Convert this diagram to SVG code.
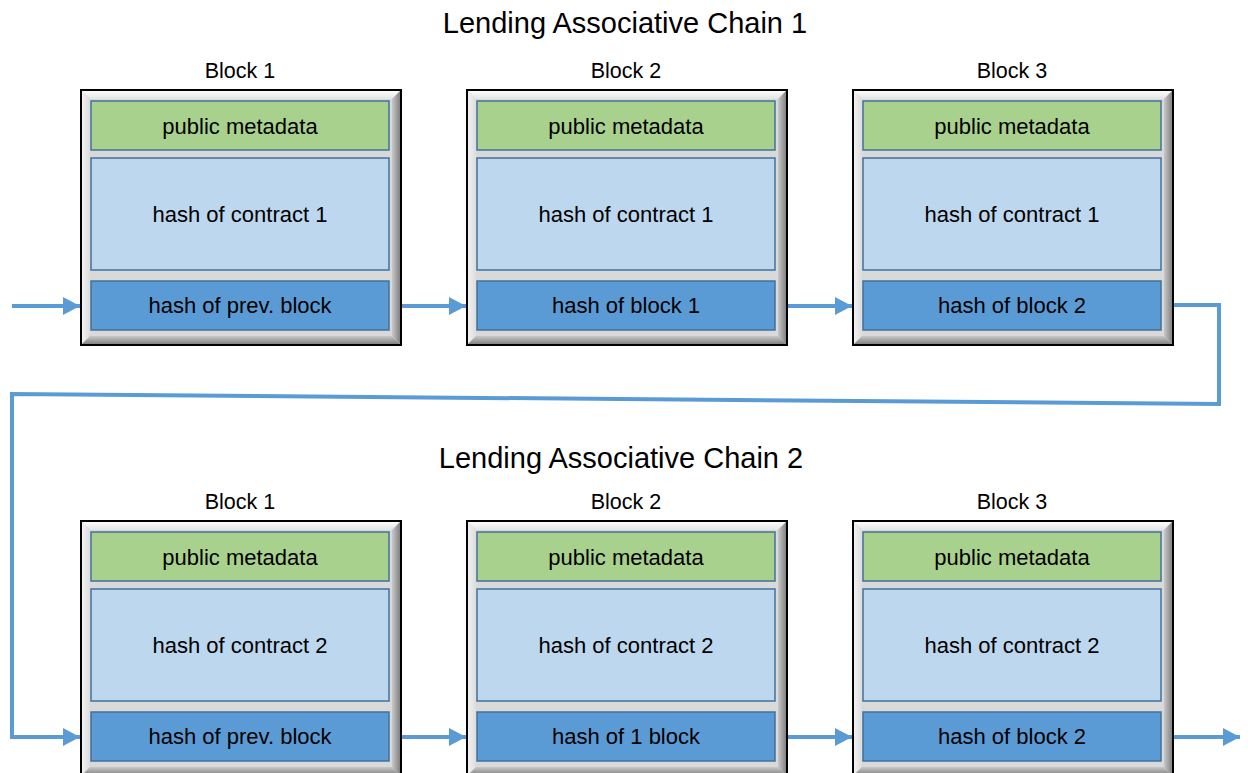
<svg xmlns="http://www.w3.org/2000/svg" xmlns:xlink="http://www.w3.org/1999/xlink" width="1248" height="773" viewBox="0 0 1248 773">
<style>
.t{font-family:"Liberation Sans",Arial,sans-serif;fill:#000;text-anchor:middle}
.title{font-size:29px}
.lbl{font-size:21.5px}
.in{font-size:22px}
.g{fill:#A9D18E;stroke:#41719C;stroke-width:1.5}
.lb{fill:#BDD7EE;stroke:#41719C;stroke-width:1.5}
.db{fill:#5B9BD5;stroke:#41719C;stroke-width:1.5}
.c{fill:none;stroke:#5B9BD5;stroke-width:4}
</style>
<defs>
<linearGradient id="gT" x1="0" y1="0" x2="0" y2="1"><stop offset="0" stop-color="#ffffff"/><stop offset="1" stop-color="#e4e4e4"/></linearGradient>
<linearGradient id="gL" x1="0" y1="0" x2="1" y2="0"><stop offset="0" stop-color="#f4f4f4"/><stop offset="1" stop-color="#dcdcdc"/></linearGradient>
<linearGradient id="gR" x1="0" y1="0" x2="1" y2="0"><stop offset="0" stop-color="#c8c8c8"/><stop offset="1" stop-color="#7a7a7a"/></linearGradient>
<linearGradient id="gB" x1="0" y1="0" x2="0" y2="1"><stop offset="0" stop-color="#c8c8c8"/><stop offset="1" stop-color="#7a7a7a"/></linearGradient>
<g id="frame">
<rect x="0" y="0" width="320" height="255" fill="#d9d9d9"/>
<polygon points="0,0 320,0 311,9 9,9" fill="url(#gT)"/>
<polygon points="0,0 9,9 9,246 0,255" fill="url(#gL)"/>
<polygon points="320,0 320,255 311,246 311,9" fill="url(#gR)"/>
<polygon points="0,255 320,255 311,246 9,246" fill="url(#gB)"/>
<rect x="0" y="0" width="320" height="255" fill="none" stroke="#000" stroke-width="2"/>
</g>
<marker id="ah" markerUnits="userSpaceOnUse" markerWidth="20" markerHeight="20" viewBox="0 0 20 20" refX="17" refY="10" orient="auto">
<path d="M0,1 L17,10 L0,19 Z" fill="#5B9BD5"/>
</marker>
</defs>

<text class="t title" x="625" y="33">Lending Associative Chain 1</text>
<text class="t title" x="621" y="468">Lending Associative Chain 2</text>

<g id="connectors">
<line class="c" x1="12" y1="306" x2="80" y2="306" marker-end="url(#ah)"/>
<line class="c" x1="401" y1="306" x2="466" y2="306" marker-end="url(#ah)"/>
<line class="c" x1="787" y1="306" x2="852" y2="306" marker-end="url(#ah)"/>
<path class="c" d="M1173,305 H1219 V404 L12,394 V737 H80" marker-end="url(#ah)"/>
<line class="c" x1="401" y1="737" x2="466" y2="737" marker-end="url(#ah)"/>
<line class="c" x1="787" y1="737" x2="852" y2="737" marker-end="url(#ah)"/>
<line class="c" x1="1173" y1="737" x2="1240" y2="737" marker-end="url(#ah)"/>
</g>

<g id="c1b1">
<text class="t lbl" x="240" y="78">Block 1</text>
<use xlink:href="#frame" href="#frame" x="81" y="90"/>
<rect class="g" x="91" y="101" width="298" height="49"/>
<text class="t in" x="240" y="134">public metadata</text>
<rect class="lb" x="91" y="158" width="298" height="112"/>
<text class="t in" x="240" y="222">hash of contract 1</text>
<rect class="db" x="91" y="281" width="298" height="49"/>
<text class="t in" x="240" y="313">hash of prev. block</text>
</g>

<g id="c1b2">
<text class="t lbl" x="626" y="78">Block 2</text>
<use xlink:href="#frame" href="#frame" x="467" y="90"/>
<rect class="g" x="477" y="101" width="298" height="49"/>
<text class="t in" x="626" y="134">public metadata</text>
<rect class="lb" x="477" y="158" width="298" height="112"/>
<text class="t in" x="626" y="222">hash of contract 1</text>
<rect class="db" x="477" y="281" width="298" height="49"/>
<text class="t in" x="626" y="313">hash of block 1</text>
</g>

<g id="c1b3">
<text class="t lbl" x="1012" y="78">Block 3</text>
<use xlink:href="#frame" href="#frame" x="853" y="90"/>
<rect class="g" x="863" y="101" width="298" height="49"/>
<text class="t in" x="1012" y="134">public metadata</text>
<rect class="lb" x="863" y="158" width="298" height="112"/>
<text class="t in" x="1012" y="222">hash of contract 1</text>
<rect class="db" x="863" y="281" width="298" height="49"/>
<text class="t in" x="1012" y="313">hash of block 2</text>
</g>

<g id="c2b1">
<text class="t lbl" x="240" y="509">Block 1</text>
<use xlink:href="#frame" href="#frame" x="81" y="521"/>
<rect class="g" x="91" y="532" width="298" height="49"/>
<text class="t in" x="240" y="565">public metadata</text>
<rect class="lb" x="91" y="589" width="298" height="112"/>
<text class="t in" x="240" y="653">hash of contract 2</text>
<rect class="db" x="91" y="712" width="298" height="49"/>
<text class="t in" x="240" y="744">hash of prev. block</text>
</g>

<g id="c2b2">
<text class="t lbl" x="626" y="509">Block 2</text>
<use xlink:href="#frame" href="#frame" x="467" y="521"/>
<rect class="g" x="477" y="532" width="298" height="49"/>
<text class="t in" x="626" y="565">public metadata</text>
<rect class="lb" x="477" y="589" width="298" height="112"/>
<text class="t in" x="626" y="653">hash of contract 2</text>
<rect class="db" x="477" y="712" width="298" height="49"/>
<text class="t in" x="626" y="744">hash of 1 block</text>
</g>

<g id="c2b3">
<text class="t lbl" x="1012" y="509">Block 3</text>
<use xlink:href="#frame" href="#frame" x="853" y="521"/>
<rect class="g" x="863" y="532" width="298" height="49"/>
<text class="t in" x="1012" y="565">public metadata</text>
<rect class="lb" x="863" y="589" width="298" height="112"/>
<text class="t in" x="1012" y="653">hash of contract 2</text>
<rect class="db" x="863" y="712" width="298" height="49"/>
<text class="t in" x="1012" y="744">hash of block 2</text>
</g>
</svg>
